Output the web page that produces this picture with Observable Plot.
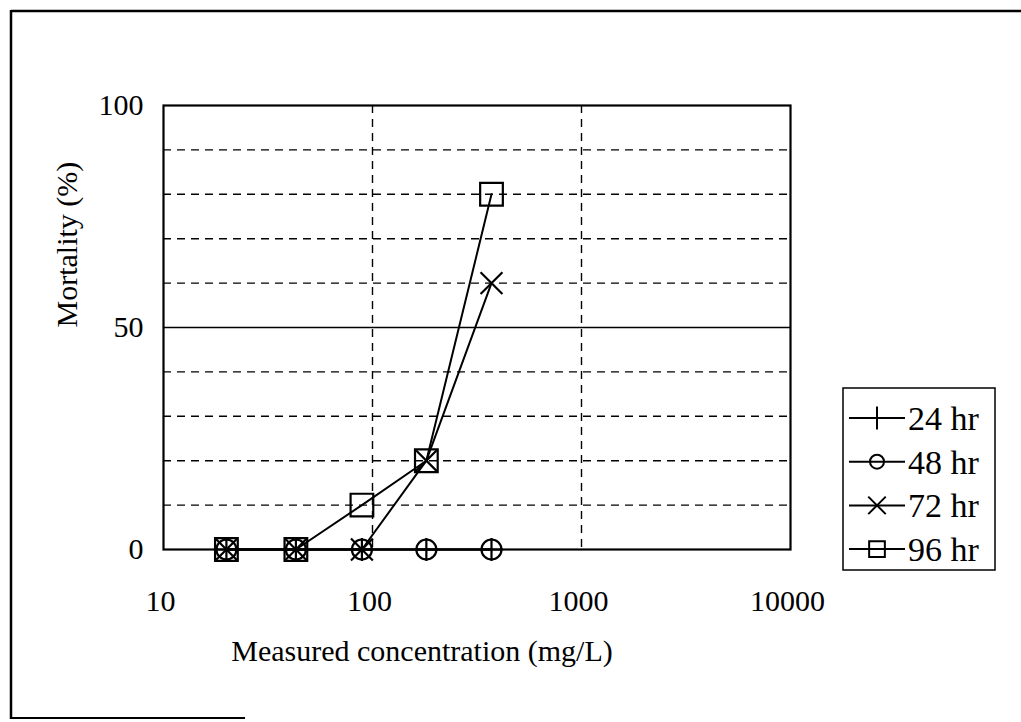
<!DOCTYPE html>
<html>
<head>
<meta charset="utf-8">
<script src="https://cdn.jsdelivr.net/npm/d3@7"></script>
<script src="https://cdn.jsdelivr.net/npm/@observablehq/plot@0.6"></script>
<style>
  html, body { margin: 0; padding: 0; background: #fff; }
  #wrap { position: relative; width: 1021px; height: 722px; overflow: hidden; font-family: "Liberation Serif", "DejaVu Serif", serif; }
  #wrap > svg { position: absolute; left: 0; top: 0; }
  #overlay { position: absolute; left: 0; top: 0; pointer-events: none; }
</style>
</head>
<body>
<div id="wrap"></div>
<script>
// ---- data ----
const concentrations = [20, 43, 89, 181, 371];          // mg/L (measured)
const series = ["24 hr", "48 hr", "72 hr", "96 hr"];
const mortality24 = [0, 0, 0, 0, 0];
const mortality48 = [0, 0, 0, 0, 0];
const mortality72 = [0, 0, 0, 20, 60];
const mortality96 = [0, 0, 10, 20, 80];
const xTicks = [10, 100, 1000, 10000];
const yTicks = [0, 50, 100];
const yDashedGrid = [10, 20, 30, 40, 60, 70, 80, 90];
const ySolidRef = [50];
const xDashedGrid = [100, 1000];
const xTitle = "Measured concentration (mg/L)";
const yTitle = "Mortality (%)";

const symbols = {"24 hr": "plus", "48 hr": "circle", "72 hr": "times", "96 hr": "square"};
const symbolR = {"24 hr": 7.5, "48 hr": 10, "72 hr": 10, "96 hr": 12.8};
const values = {"24 hr": mortality24, "48 hr": mortality48, "72 hr": mortality72, "96 hr": mortality96};

const rows = series.flatMap(s => concentrations.map((c, i) => ({series: s, conc: c, mort: values[s][i]})));

const font = "Liberation Serif, DejaVu Serif, serif";

const marks = [
  Plot.ruleY(yDashedGrid, {stroke: "#000", strokeWidth: 1.4, strokeDasharray: "8,6"}),
  Plot.ruleX(xDashedGrid, {stroke: "#000", strokeWidth: 1.4, strokeDasharray: "8,6"}),
  Plot.ruleY(ySolidRef, {stroke: "#000", strokeWidth: 1.5}),
  Plot.frame({stroke: "#000", strokeWidth: 2.2}),
  Plot.axisX({ticks: xTicks, tickSize: 0, tickPadding: 40, tickFormat: d => String(d), fontSize: 30, dx: -3, label: null}),
  Plot.axisY({ticks: yTicks, tickSize: 0, tickPadding: 20, fontSize: 30, label: null}),
  Plot.text([xTitle], {frameAnchor: "bottom", dx: -55, dy: 111, fontSize: 30, fill: "#000"}),
  Plot.text([yTitle], {frameAnchor: "left", dx: -96, rotate: -90, fontSize: 30, fill: "#000"})
];
for (const s of series) {
  const d = rows.filter(r => r.series === s);
  marks.push(Plot.line(d, {x: "conc", y: "mort", stroke: "#000", strokeWidth: 2}));
}
for (const s of series) {
  const d = rows.filter(r => r.series === s);
  marks.push(Plot.dot(d, {x: "conc", y: "mort", symbol: () => symbols[s], r: symbolR[s], stroke: "#000", strokeWidth: 2.2, fill: "none"}));
}

const chart = Plot.plot({
  width: 1021,
  height: 722,
  marginLeft: 163,
  marginRight: 231,
  marginTop: 105,
  marginBottom: 173,
  style: {fontFamily: font, fontSize: "30px", color: "#000", background: "transparent"},
  x: {type: "log", domain: [10, 10000]},
  y: {domain: [0, 100]},
  symbol: {type: "identity"},
  marks
});
document.getElementById("wrap").appendChild(chart);

// ---- overlay: page frame and legend ----
const ov = d3.select("#wrap").append("svg").attr("id", "overlay").attr("width", 1021).attr("height", 722);
// scanned page borders
ov.append("line").attr("x1", 11).attr("x2", 1021).attr("y1", 11).attr("y2", 11).attr("stroke", "#000").attr("stroke-width", 2.5);
ov.append("line").attr("x1", 11).attr("x2", 11).attr("y1", 10).attr("y2", 719).attr("stroke", "#000").attr("stroke-width", 2.5);
ov.append("line").attr("x1", 10).attr("x2", 245).attr("y1", 718).attr("y2", 718).attr("stroke", "#000").attr("stroke-width", 2);

// legend
const lg = ov.append("g").attr("transform", "translate(843,388)");
lg.append("rect").attr("width", 152).attr("height", 182).attr("fill", "#fff").attr("stroke", "#000").attr("stroke-width", 1.5);
const d3sym = {"24 hr": d3.symbolPlus, "48 hr": d3.symbolCircle, "72 hr": d3.symbolTimes, "96 hr": d3.symbolSquare2};
const legendR = {"24 hr": 7.5, "48 hr": 7, "72 hr": 8, "96 hr": 10};
series.forEach((s, i) => {
  const cy = 30 + i * 43.7;
  const g = lg.append("g").attr("transform", `translate(0,${cy})`);
  g.append("line").attr("x1", 6).attr("x2", 62).attr("stroke", "#000").attr("stroke-width", 2);
  g.append("path").attr("transform", "translate(34,0)")
    .attr("d", d3.symbol(d3sym[s], Math.PI * legendR[s] * legendR[s])())
    .attr("fill", "none").attr("stroke", "#000").attr("stroke-width", 2);
  g.append("text").attr("x", 65).attr("y", 0).attr("dy", "0.35em")
    .attr("font-family", font).attr("font-size", 34).attr("fill", "#000").text(s);
});
</script>
</body>
</html>
